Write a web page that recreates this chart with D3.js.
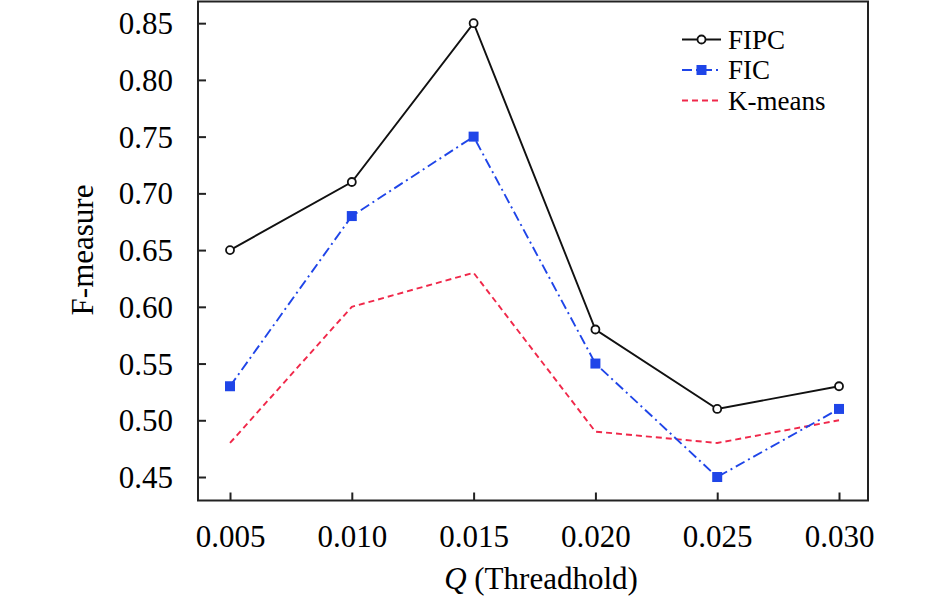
<!DOCTYPE html>
<html><head><meta charset="utf-8">
<script src="https://cdn.jsdelivr.net/npm/d3@7"></script>
<style>body{margin:0;background:#fff}svg{display:block}text{font-family:"Liberation Serif","Times New Roman",Times,serif;fill:#000}</style>
</head><body>
<svg id="c" width="945" height="606"></svg>
<script>
const categories = ["0.005","0.010","0.015","0.020","0.025","0.030"];
const xValues = [0.005,0.010,0.015,0.020,0.025,0.030];
const fipc = [0.65,0.71,0.85,0.58,0.51,0.53];
const fic = [0.53,0.68,0.75,0.55,0.45,0.51];
const kmeans = [0.48,0.60,0.63,0.49,0.48,0.50];
const yTicks = [0.45,0.50,0.55,0.60,0.65,0.70,0.75,0.80,0.85];
const seriesNames = ["FIPC","FIC","K-means"];

const svg = d3.select("#c");
const L=198, R=868, T=1.5, B=500.5;
const x = d3.scaleLinear().domain([0.003686,0.03119]).range([L,R]);
const y = d3.scaleLinear().domain([0.4293,0.8691]).range([B,T]);
const fs = 31;

svg.append("rect").attr("x",L).attr("y",T).attr("width",R-L).attr("height",B-T)
  .attr("fill","none").attr("stroke","#222").attr("stroke-width",2);

const xa = svg.append("g").attr("transform",`translate(0,${B})`)
  .call(d3.axisBottom(x).tickValues(xValues).tickSize(-8).tickPadding(0).tickFormat((d,i)=>categories[i]));
xa.attr("font-family",null).attr("font-size",null);
xa.select(".domain").remove();
xa.selectAll(".tick line").attr("stroke","#222").attr("stroke-width",2);
xa.selectAll(".tick text").attr("font-size",fs).attr("dy",null).attr("y",46).attr("fill","#000");

const ya = svg.append("g").attr("transform",`translate(${L},0)`)
  .call(d3.axisLeft(y).tickValues(yTicks).tickSize(-8).tickPadding(0).tickFormat(d3.format(".2f")));
ya.attr("font-family",null).attr("font-size",null);
ya.select(".domain").remove();
ya.selectAll(".tick line").attr("stroke","#222").attr("stroke-width",2);
ya.selectAll(".tick text").attr("font-size",fs).attr("x",-25).attr("dy","0.34em").attr("fill","#000");

svg.append("text").attr("transform","translate(93,250) rotate(-90)").attr("text-anchor","middle")
  .attr("font-size",fs).text("F-measure");
const xt = svg.append("text").attr("x",541).attr("y",589).attr("text-anchor","middle").attr("font-size",fs);
xt.append("tspan").attr("font-style","italic").text("Q");
xt.append("tspan").text(" (Threadhold)");

const line = d3.line().x((d,i)=>x(xValues[i])).y(d=>y(d));
const blue = "#1f45e8", red = "#f0284a";

svg.append("path").datum(kmeans).attr("d",line).attr("fill","none").attr("stroke",red)
  .attr("stroke-width",1.9).attr("stroke-dasharray","6,4");
svg.append("path").datum(fic).attr("d",line).attr("fill","none").attr("stroke",blue)
  .attr("stroke-width",1.9).attr("stroke-dasharray","10,4,2,4");
svg.append("path").datum(fipc).attr("d",line).attr("fill","none").attr("stroke","#111")
  .attr("stroke-width",1.9);

svg.selectAll(".sq").data(fic).enter().append("rect")
  .attr("x",(d,i)=>x(xValues[i])-5).attr("y",d=>y(d)-5).attr("width",10).attr("height",10).attr("fill",blue);
svg.selectAll(".ci").data(fipc).enter().append("circle")
  .attr("cx",(d,i)=>x(xValues[i])).attr("cy",d=>y(d)).attr("r",4)
  .attr("fill","#fff").attr("stroke","#111").attr("stroke-width",1.8);

const lg = svg.append("g");
const rows = [39.5,70,100.5];
const styles = [
  {stroke:"#111",dash:null},
  {stroke:blue,dash:"10,4,2,4"},
  {stroke:red,dash:"6,4"}
];
seriesNames.forEach((n,i)=>{
  lg.append("line").attr("x1",682).attr("x2",721).attr("y1",rows[i]).attr("y2",rows[i])
    .attr("stroke",styles[i].stroke).attr("stroke-width",1.9).attr("stroke-dasharray",styles[i].dash);
  lg.append("text").attr("x",728).attr("y",rows[i]).attr("dy","0.34em").attr("font-size",27).text(n);
});
lg.append("circle").attr("cx",701.5).attr("cy",rows[0]).attr("r",4).attr("fill","#fff").attr("stroke","#111").attr("stroke-width",1.8);
lg.append("rect").attr("x",696.5).attr("y",rows[1]-5).attr("width",10).attr("height",10).attr("fill",blue);
</script>
</body></html>
